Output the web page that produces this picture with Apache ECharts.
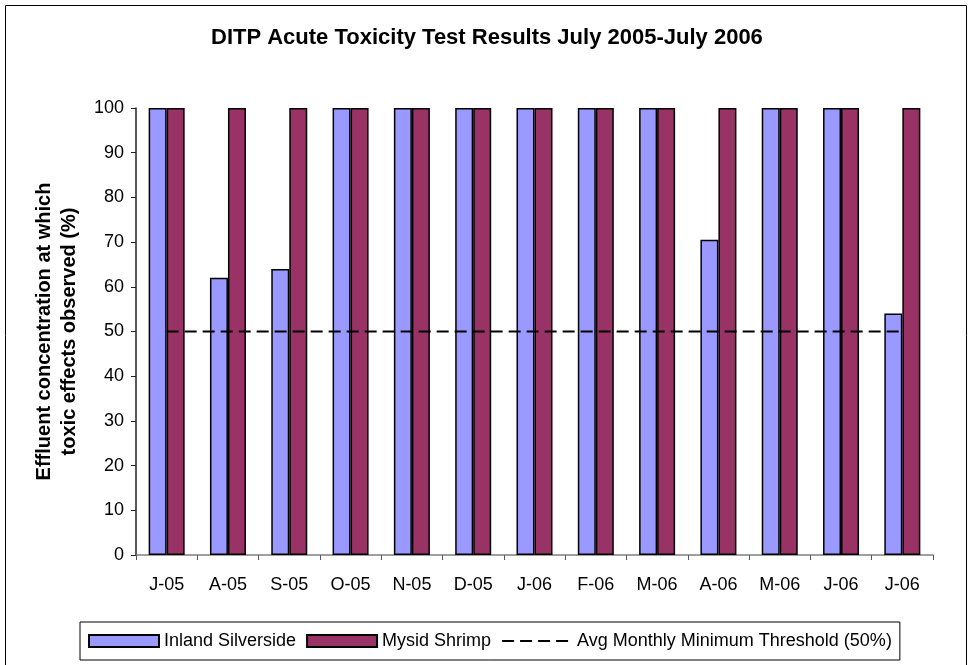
<!DOCTYPE html>
<html>
<head>
<meta charset="utf-8">
<script src="https://cdn.jsdelivr.net/npm/echarts@6/dist/echarts.min.js"></script>
<style>
html,body{margin:0;padding:0;background:#fff;}
#c{width:973px;height:665px;}
</style>
</head>
<body>
<div id="c"></div>
<script>
var categories = ['J-05','A-05','S-05','O-05','N-05','D-05','J-06','F-06','M-06','A-06','M-06','J-06','J-06'];
var silverside = [100,62,64,100,100,100,100,100,100,70.5,100,100,54];
var shrimp = [100,100,100,100,100,100,100,100,100,100,100,100,100];
var threshold = [50,50,50,50,50,50,50,50,50,50,50,50,50];
var yTicks = [0,10,20,30,40,50,60,70,80,90,100];

var FONT = '"Liberation Sans", Arial, sans-serif';
var chart = echarts.init(document.getElementById('c'), null, {renderer:'canvas'});
chart.setOption({
  backgroundColor:'#fff',
  animation:false,
  textStyle:{fontFamily:FONT,color:'#000'},
  title:{
    text:'DITP Acute Toxicity Test Results July 2005-July 2006',
    left:211, top:27, padding:0,
    textStyle:{fontFamily:FONT,fontSize:22,fontWeight:'bold',color:'#000'}
  },
  graphic:[{
    type:'rect', silent:true, z:-1,
    shape:{x:5.5,y:5.5,width:961,height:700},
    style:{fill:null,stroke:'#000',lineWidth:1}
  }],
  grid:{left:136,right:40,top:108,bottom:110},
  xAxis:{
    type:'category',
    data:categories,
    axisLine:{lineStyle:{color:'#808080',width:1.5}},
    axisTick:{show:true,length:5,lineStyle:{color:'#555'}},
    axisLabel:{fontFamily:FONT,fontSize:18,color:'#000',margin:21,interval:0},
    splitLine:{show:false}
  },
  yAxis:{
    type:'value',min:0,max:100,interval:10,
    name:'Effluent concentration at which\ntoxic effects observed (%)',
    nameLocation:'middle',nameGap:54,
    nameTextStyle:{fontFamily:FONT,fontSize:20,fontWeight:'bold',color:'#000',lineHeight:25},
    axisLine:{show:true,lineStyle:{color:'#222',width:1.5}},
    axisTick:{show:true,length:5,lineStyle:{color:'#222'}},
    axisLabel:{fontFamily:FONT,fontSize:18,color:'#000',margin:12,
      formatter:function(v){return yTicks.indexOf(v)>=0?String(v):'';}},
    splitLine:{show:false}
  },
  legend:{
    left:80, top:622,
    padding:[10,8],
    borderColor:'#000', borderWidth:1,
    itemWidth:70, itemHeight:12, itemGap:10,
    textStyle:{fontFamily:FONT,fontSize:18,color:'#000'},
    data:[
      {name:'Inland Silverside',icon:'rect'},
      {name:'Mysid Shrimp',icon:'rect'},
      {name:'Avg Monthly Minimum Threshold (50%)',itemStyle:{opacity:0,color:'rgba(0,0,0,0)',borderWidth:0}}
    ]
  },
  series:[
    {
      name:'Inland Silverside', type:'bar', data:silverside,
      barWidth:18, barGap:'0%',
      itemStyle:{color:'#9999FF',borderColor:'#000',borderWidth:1.5}
    },
    {
      name:'Mysid Shrimp', type:'bar', data:shrimp,
      barWidth:18, barGap:'0%',
      itemStyle:{color:'#993366',borderColor:'#000',borderWidth:1.5}
    },
    {
      name:'Avg Monthly Minimum Threshold (50%)', type:'line', data:threshold,
      symbol:'none', showSymbol:false, z:5,
      lineStyle:{color:'#000',width:2,type:[12,6]},
      itemStyle:{color:'#000'}
    }
  ]
});
</script>
</body>
</html>
